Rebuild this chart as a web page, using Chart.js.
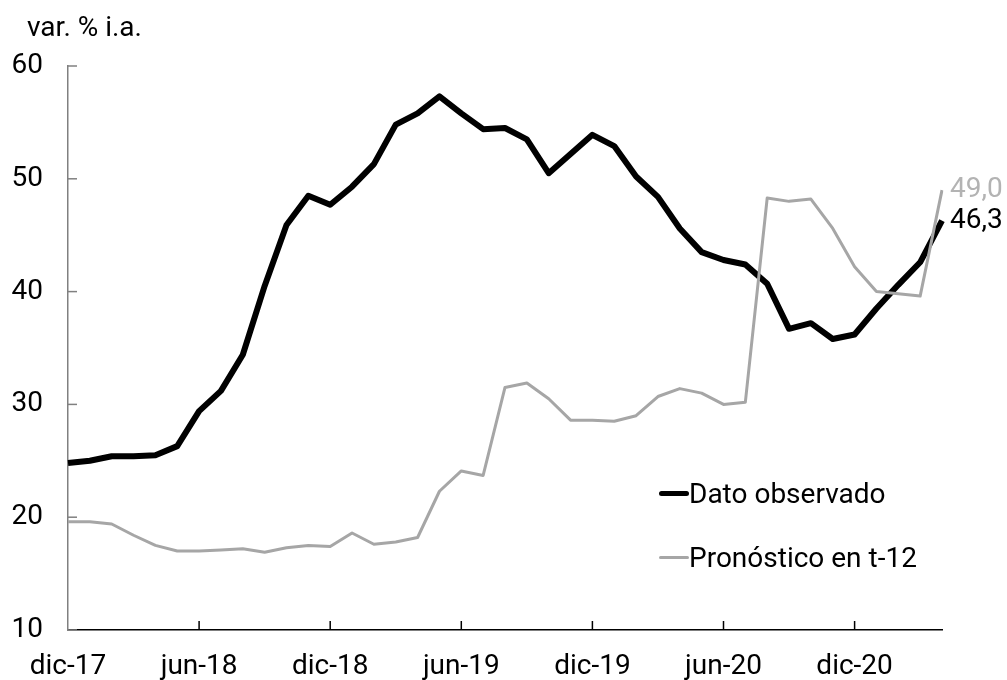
<!DOCTYPE html>
<html lang="es">
<head>
    <meta charset="UTF-8">
    <title>Dato observado vs pronóstico</title>
    <script src="https://cdn.jsdelivr.net/npm/chart.js"></script>
    <style>
        body {
            margin: 0;
            font-family: Roboto, Arial, sans-serif;
            background: #fff;
        }

        .wrap {
            position: relative;
            width: 1007px;
            height: 680px;
        }

        .unit {
            position: absolute;
            left: 27px;
            top: 12px;
            font-size: 28px;
            line-height: 30px;
            color: #000;
        }

        .legend {
            position: absolute;
            left: 659px;
            font-size: 28px;
            color: #000;
        }

        .legend div {
            display: flex;
            align-items: center;
            height: 30px;
        }

        .legend span.swatch {
            display: inline-block;
            width: 30px;
            border-radius: 3px;
        }
    </style>
</head>
<body>
    <div class="wrap">
        <canvas id="chart"></canvas>
        <div class="unit">var. % i.a.</div>
        <div class="legend" style="top: 478px;">
            <div><span class="swatch" style="height:5px;background:#000;"></span>Dato observado</div>
        </div>
        <div class="legend" style="top: 542px;">
            <div><span class="swatch" style="height:3px;background:#a6a6a6;"></span>Pronóstico en t-12</div>
        </div>
    </div>

    <script>
        // meses dic-17 ... abr-21
        const months = ['dic-17',
            'ene-18', 'feb-18', 'mar-18', 'abr-18', 'may-18', 'jun-18', 'jul-18', 'ago-18', 'sep-18', 'oct-18', 'nov-18', 'dic-18',
            'ene-19', 'feb-19', 'mar-19', 'abr-19', 'may-19', 'jun-19', 'jul-19', 'ago-19', 'sep-19', 'oct-19', 'nov-19', 'dic-19',
            'ene-20', 'feb-20', 'mar-20', 'abr-20', 'may-20', 'jun-20', 'jul-20', 'ago-20', 'sep-20', 'oct-20', 'nov-20', 'dic-20',
            'ene-21', 'feb-21', 'mar-21', 'abr-21'];

        const observado = [24.8, 25.0, 25.4, 25.4, 25.5, 26.3, 29.4, 31.2, 34.4, 40.5, 45.9, 48.5, 47.7,
            49.3, 51.3, 54.8, 55.8, 57.3, 55.8, 54.4, 54.5, 53.5, 50.5, 52.2, 53.9,
            52.9, 50.2, 48.4, 45.6, 43.5, 42.8, 42.4, 40.7, 36.7, 37.2, 35.8, 36.2,
            38.5, 40.6, 42.6, 46.3];

        const pronostico = [19.6, 19.6, 19.4, 18.4, 17.5, 17.0, 17.0, 17.1, 17.2, 16.9, 17.3, 17.5, 17.4,
            18.6, 17.6, 17.8, 18.2, 22.3, 24.1, 23.7, 31.5, 31.9, 30.5, 28.6, 28.6,
            28.5, 29.0, 30.7, 31.4, 31.0, 30.0, 30.2, 48.3, 48.0, 48.2, 45.6, 42.2,
            40.0, 39.8, 39.6, 49.0];

        const yTicks = [10, 20, 30, 40, 50, 60];

        const FONT = { family: 'Roboto', size: 28 };

        // marcas hacia adentro + etiquetas finales
        const extras = {
            id: 'extras',
            beforeDatasetsDraw(chart) {
                const { ctx, chartArea, scales } = chart;
                ctx.save();
                ctx.lineWidth = 1.5;
                ctx.strokeStyle = '#808080';
                scales.y.ticks.forEach((t, i) => {
                    const py = scales.y.getPixelForTick(i);
                    ctx.beginPath();
                    ctx.moveTo(chartArea.left, py);
                    ctx.lineTo(chartArea.left + 9, py);
                    ctx.stroke();
                });
                ctx.strokeStyle = '#000';
                scales.x.ticks.forEach((t, i) => {
                    if (i === 0 || i % 6 !== 0) return;
                    const px = scales.x.getPixelForTick(i);
                    ctx.beginPath();
                    ctx.moveTo(px, chartArea.bottom);
                    ctx.lineTo(px, chartArea.bottom - 9);
                    ctx.stroke();
                });
                ctx.restore();
            },
            afterDatasetsDraw(chart) {
                const { ctx } = chart;
                ctx.save();
                ctx.font = '28px Roboto';
                ctx.textAlign = 'left';
                ctx.textBaseline = 'middle';
                chart.data.datasets.forEach((ds, di) => {
                    const meta = chart.getDatasetMeta(di);
                    const pt = meta.data[meta.data.length - 1];
                    const v = ds.data[ds.data.length - 1];
                    ctx.fillStyle = ds.labelColor;
                    ctx.fillText(v.toFixed(1).replace('.', ','), pt.x + 8, pt.y);
                });
                ctx.restore();
            }
        };

        const ctx = document.getElementById('chart').getContext('2d');
        new Chart(ctx, {
            type: 'line',
            data: {
                labels: months,
                datasets: [{
                    label: 'Dato observado',
                    data: observado,
                    borderColor: '#000',
                    borderWidth: 6,
                    labelColor: '#000',
                    order: 2
                }, {
                    label: 'Pronóstico en t-12',
                    data: pronostico,
                    borderColor: '#a6a6a6',
                    borderWidth: 3,
                    labelColor: '#b3b3b3',
                    order: 1
                }]
            },
            options: {
                responsive: true,
                maintainAspectRatio: false,
                animation: false,
                elements: {
                    point: { radius: 0 },
                    line: { tension: 0, borderJoinStyle: 'round' }
                },
                layout: {
                    padding: { left: 0, right: 65, top: 66, bottom: 0 }
                },
                plugins: {
                    legend: { display: false },
                    tooltip: { enabled: false }
                },
                scales: {
                    x: {
                        type: 'category',
                        offset: false,
                        grid: { display: false, drawTicks: false },
                        border: { color: '#000', width: 1.5 },
                        ticks: {
                            autoSkip: false,
                            maxRotation: 0,
                            padding: 20,
                            color: '#000',
                            font: FONT,
                            callback: (v, i) => (i % 6 === 0 ? months[i] : '')
                        },
                        afterFit: (s) => { s.height = 50; }
                    },
                    y: {
                        min: 10,
                        max: 60,
                        afterBuildTicks: (s) => { s.ticks = yTicks.map(v => ({ value: v })); },
                        grid: { display: false, drawTicks: false },
                        border: { color: '#808080', width: 1.5 },
                        ticks: {
                            padding: 25,
                            color: '#000',
                            font: FONT
                        },
                        afterFit: (s) => { s.width = 68; }
                    }
                }
            },
            plugins: [extras]
        });
    </script>
</body>
</html>
